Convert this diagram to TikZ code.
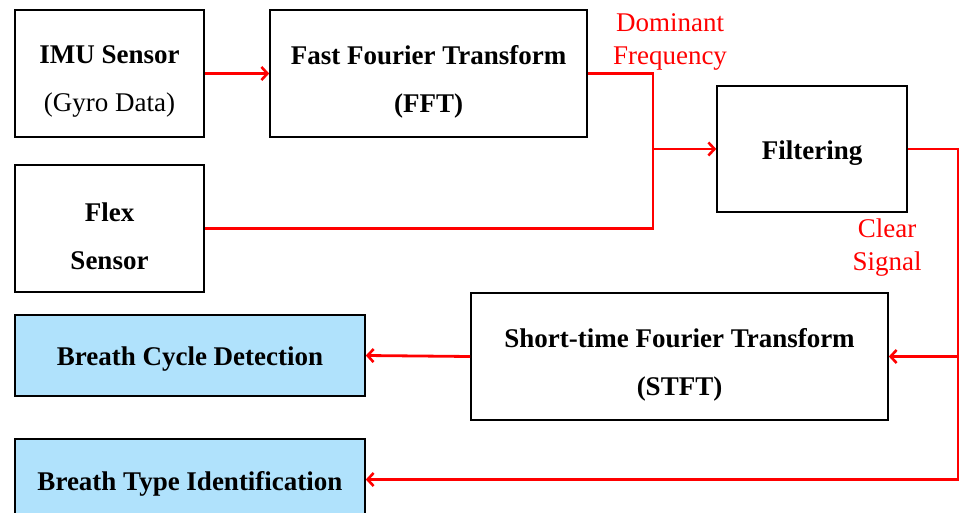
\documentclass[tikz,border=0pt]{standalone}
\usepackage{fontspec}
\setmainfont{Liberation Serif}
\usetikzlibrary{arrows.meta}
\definecolor{lightblue}{RGB}{176,226,252}
\definecolor{linered}{RGB}{255,0,0}
\tikzset{
  box/.style={draw=black, line width=1.6pt, rectangle, inner sep=0pt},
  outbox/.style={box, fill=lightblue},
  txt/.style={align=center, inner sep=0pt, font=\fontsize{27}{48}\selectfont\bfseries},
  one/.style={label={[txt, yshift=-4pt]center:#1}},
  two/.style={label={[txt, yshift=-8pt]center:#1}},
  lbl/.style={text=linered, align=center, font=\fontsize{27}{33}\selectfont, inner sep=0pt},
  conn/.style={draw=linered, line width=2.8pt},
  arr/.style={conn, -{Straight Barb[length=6pt,width=13pt,line width=2.6pt]}}
}
\begin{document}
\begin{tikzpicture}[x=1pt,y=-1pt]
\useasboundingbox (0,0) rectangle (960,513);
\node[box, minimum width=189pt, minimum height=127pt,
  two={IMU Sensor\\\mdseries (Gyro Data)}] (imu) at (109.5,73.5) {};
\node[box, minimum width=317pt, minimum height=127pt,
  two={Fast Fourier Transform\\(FFT)}] (fft) at (428.5,73.5) {};
\node[box, minimum width=190pt, minimum height=126pt,
  one={Filtering}] (filt) at (812,149) {};
\node[box, minimum width=189pt, minimum height=127pt,
  two={Flex\\Sensor}] (flex) at (109.5,228.5) {};
\node[box, minimum width=417pt, minimum height=127pt,
  two={Short-time Fourier Transform\\(STFT)}] (stft) at (679.5,356.5) {};
\node[outbox, minimum width=350pt, minimum height=81pt,
  one={Breath Cycle Detection}] (bcyc) at (190,355.5) {};
\node[outbox, minimum width=350pt, minimum height=81pt,
  one={Breath Type Identification}] (btyp) at (190,479.5) {};
\node[lbl] (dom) at (670,42) {Dominant\\Frequency};
\node[lbl] (clr) at (887,248) {Clear\\Signal};
\coordinate (j) at (653,149);
\coordinate (r1) at (958,479.5);
\coordinate (r2) at (958,356.5);
\draw[arr] (imu.east) -- (fft.west);
\draw[conn] (fft.east) -| (j);
\draw[conn] (flex.east) -| (j);
\draw[arr] (j) -- (filt.west);
\draw[arr] (filt.east) -| (r1) -- (btyp.east);
\draw[arr] (r2) -- (stft.east);
\draw[arr] (stft.west) -- (bcyc.east);
\end{tikzpicture}
\end{document}
